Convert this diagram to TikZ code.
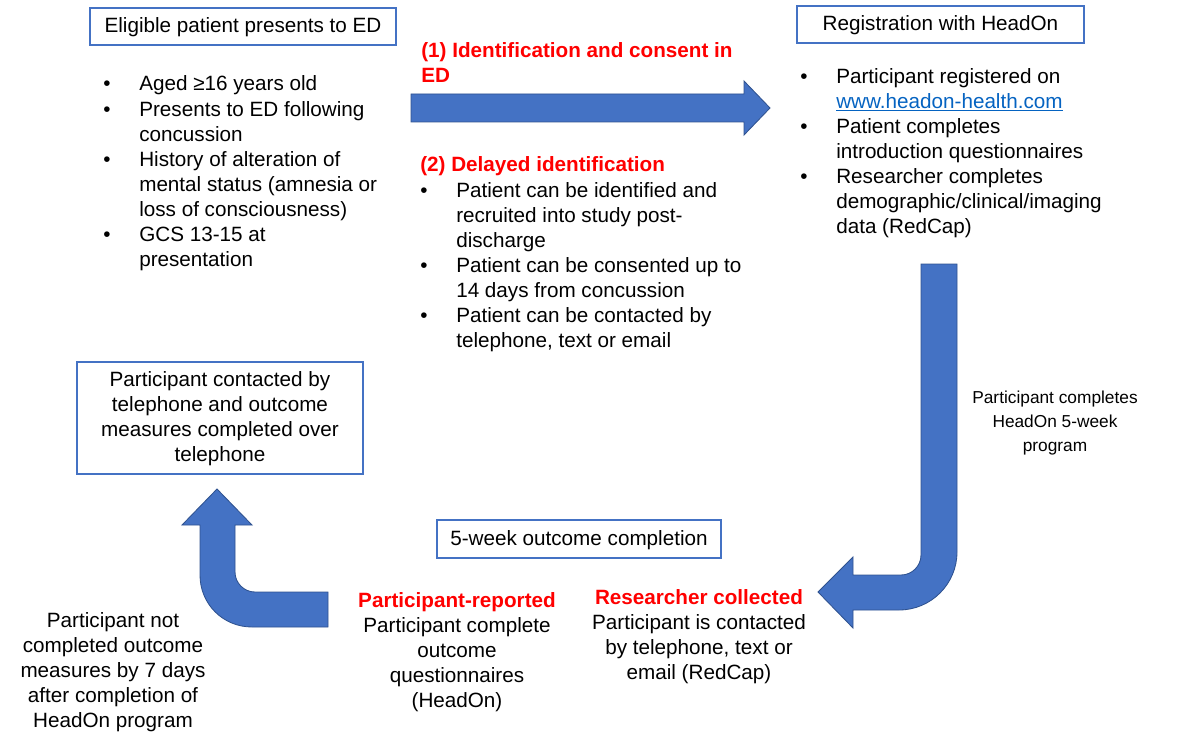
\documentclass[tikz,border=0pt]{standalone}
\usepackage{fontspec}
\setmainfont{Liberation Sans}
\usetikzlibrary{positioning}
\definecolor{boxblue}{HTML}{4472C4}
\definecolor{edgeblue}{HTML}{2F528F}
\definecolor{linkblue}{HTML}{0563C1}
\definecolor{hired}{HTML}{FF0000}
\newlength\unitpx
\setlength\unitpx{0.025cm}
\newcommand{\blist}[1]{\begin{tabular}[t]{@{}p{36\unitpx}@{}l@{}}#1\end{tabular}}
\newcommand{\redhead}[1]{\textcolor{hired}{\bfseries #1}}

\begin{document}
\begin{tikzpicture}[x=0.025cm,y=-0.025cm,
 every node/.style={font=\fontsize{14.7}{17.8}\selectfont, inner sep=0pt},
 stage/.style={draw=boxblue, line width=2\unitpx, align=center},
 oneline/.style={stage, text height=14\unitpx, text depth=1\unitpx},
 note/.style={align=center},
 bullets/.style={anchor=base west},
 blockarrow/.style={fill=boxblue, draw=edgeblue, line width=0.6pt}]
 \useasboundingbox (0,0) rectangle (1182,735);

 \node[oneline, minimum width=306\unitpx, minimum height=37\unitpx] (elig) at (243,26.5) {Eligible patient presents to ED};
 \node[oneline, minimum width=287\unitpx, minimum height=37\unitpx] (reg) at (940.5,24.5) {Registration with HeadOn};
 \node[stage, minimum width=286\unitpx, minimum height=112\unitpx] (phone) at (220,418) {\rule{0pt}{17\unitpx}Participant contacted by\\telephone and outcome\\measures completed over\\telephone};
 \node[oneline, minimum width=284\unitpx, minimum height=38\unitpx] (week5) at (579,539) {5-week outcome completion};

 \node[bullets] (criteria) at (103,91) {\blist{
  \textbullet & Aged ≥16 years old\\
  \textbullet & Presents to ED following\\
   & concussion\\
  \textbullet & History of alteration of\\
   & mental status (amnesia or\\
   & loss of consciousness)\\
  \textbullet & GCS 13-15 at\\
   & presentation}};

 \node[bullets] (route1) at (421,57.7) {\begin{tabular}[t]{@{}l@{}}\redhead{(1) Identification and consent in}\\\redhead{ED}\end{tabular}};

 \node[bullets] (route2) at (420,172) {\blist{
  \multicolumn{2}{@{}l@{}}{\redhead{(2) Delayed identification}}\\
  \textbullet & Patient can be identified and\\
   & recruited into study post-\\
   & discharge\\
  \textbullet & Patient can be consented up to\\
   & 14 days from concussion\\
  \textbullet & Patient can be contacted by\\
   & telephone, text or email}};

 \node[bullets] (setup) at (800,83.5) {\blist{
  \textbullet & Participant registered on\\
   & \textcolor{linkblue}{\underline{www.headon-health.com}}\\
  \textbullet & Patient completes\\
   & introduction questionnaires\\
  \textbullet & Researcher completes\\
   & demographic/clinical/imaging\\
   & data (RedCap)}};

 \node[note, font=\fontsize{12.3}{17.4}\selectfont] (program) at (1055,423) {Participant completes\\HeadOn 5-week\\program};
 \node[note] (selfrep) at (457,652) {\redhead{Participant-reported}\\Participant complete\\outcome\\questionnaires\\(HeadOn)};
 \node[note] (collect) at (699,637) {\redhead{Researcher collected}\\Participant is contacted\\by telephone, text or\\email (RedCap)};
 \node[note] (missed) at (113,672) {Participant not\\completed outcome\\measures by 7 days\\after completion of\\HeadOn program};

 \filldraw[blockarrow] (411,94) -- (744,94) -- (744,81) -- (770,108) -- (744,135) -- (744,122) -- (411,122) -- cycle;

 \filldraw[blockarrow] (921,264) -- (957,264) -- (957,552)
  .. controls (957,584) and (931,610) .. (899,610)
  -- (853,610) -- (853,628) -- (818,592) -- (853,557) -- (853,575) -- (901,575)
  .. controls (912,575) and (921,566) .. (921,555) -- cycle;

 \filldraw[blockarrow] (328,592) -- (255,592)
  .. controls (244,592) and (235,583) .. (235,572)
  -- (235,525) -- (252,525) -- (217,489) -- (182,525) -- (200,525) -- (200,575)
  .. controls (200,604) and (223,627) .. (252,627)
  -- (328,627) -- cycle;
\end{tikzpicture}
\end{document}
